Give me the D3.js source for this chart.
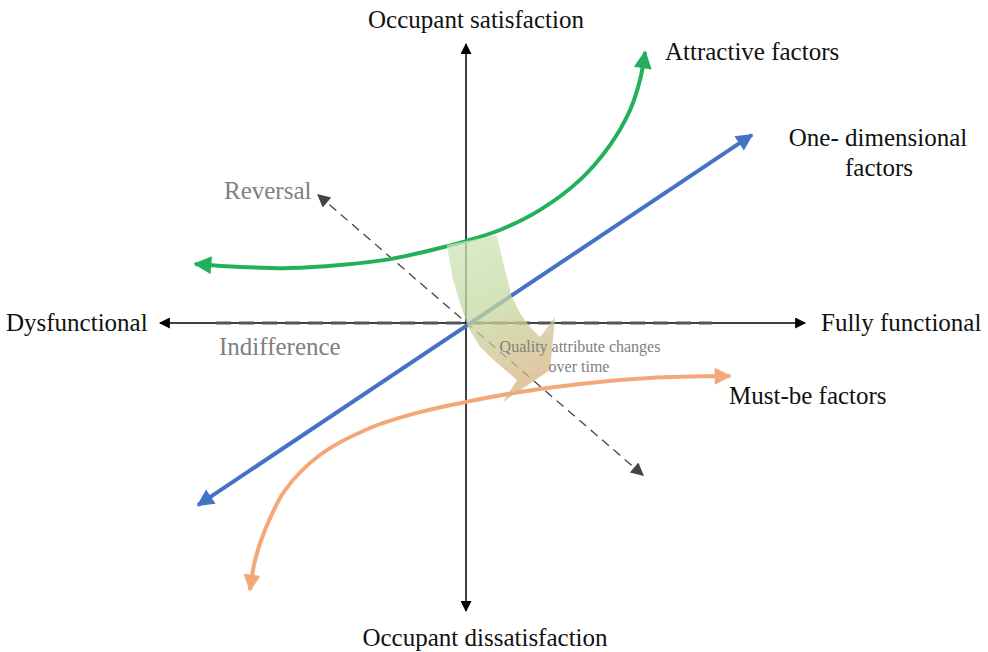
<!DOCTYPE html>
<html>
<head>
<meta charset="utf-8">
<script src="https://cdn.jsdelivr.net/npm/d3@7"></script>
<style>
  body { margin: 0; background: #fff; }
  text { font-family: "Liberation Serif", "Times New Roman", serif; }
</style>
</head>
<body>
<script>
// curve points, in diagram units (origin = centre of the axes)
const attractive = [[-90.3,19.7],[-75.3,18.7],[-58.7,18.3],[-42,19.3],[-25.3,21.3],[-8.7,25],[0,27.3],
                    [11.3,31],[24.7,37.7],[38,47.7],[48,59.3],[54.7,71],[58,81],[59.7,90.3]];
const oneDim = [[-89.3,-60.7],[95.3,62.7]];
const mustBe = [[-72,-89],[-70.3,-79],[-67,-69],[-60.3,-55.7],[-48.7,-44],[-32,-35],[-15.3,-29.7],
                [0,-26.3],[18,-23],[38,-20.3],[61.3,-18.3],[88,-17.7]];
const reversal = [[-49.3,42.7],[59,-50.7]];
const indifference = [[-83.3,0],[82,0]];
const xAxisEnds = [[-102,0],[113,0]];
const yAxisEnds = [[0,-96],[0,93]];
const changeArrow = [[-6.4,26],[-4.3,14.3],[-2,6.7],[0.7,-1.3],[4.7,-8],[10.3,-13.3],[17,-19],
                     [12.3,-26.3],[28,-15.7],[29.7,2],[24.7,-4.7],[21.3,-1.3],[18,3.3],[15.2,8.8],[13,17.7],[10.2,29.3]];

const axisLabels = ["Occupant satisfaction","Occupant dissatisfaction","Dysfunctional","Fully functional"];
const factorLabels = ["Attractive factors","One- dimensional","factors","Must-be factors"];
const grayLabels = ["Reversal","Indifference"];
const changeLabel = ["Quality attribute changes","over time"];

const W = 988, H = 652;
const x = d3.scaleLinear().domain([-100,100]).range([166,766]);
const y = d3.scaleLinear().domain([-100,100]).range([623,23]);

const svg = d3.select("body").append("svg")
    .attr("width", W).attr("height", H);

const defs = svg.append("defs");
function marker(id, color, w, h) {
  defs.append("marker")
      .attr("id", id)
      .attr("viewBox", "0 0 10 10")
      .attr("refX", 9).attr("refY", 5)
      .attr("markerUnits", "userSpaceOnUse")
      .attr("markerWidth", w).attr("markerHeight", h)
      .attr("orient", "auto-start-reverse")
    .append("path")
      .attr("d", "M0,0 L10,5 L0,10 z")
      .attr("fill", color);
}
marker("arBlack", "#000", 13, 11);
marker("arGreen", "#22b15a", 20, 18);
marker("arBlue", "#4472c4", 20, 17);
marker("arOrange", "#f4a87a", 20, 17);
marker("arGray", "#444", 15, 13);

const grad = defs.append("linearGradient")
    .attr("id", "chg").attr("x1", 0).attr("y1", 0).attr("x2", 0.3).attr("y2", 1);
grad.append("stop").attr("offset", "0%").attr("stop-color", "#d0e6bd");
grad.append("stop").attr("offset", "50%").attr("stop-color", "#c5d9a0");
grad.append("stop").attr("offset", "100%").attr("stop-color", "#d6b482");

const line = d3.line().x(d => x(d[0])).y(d => y(d[1]));
const smooth = d3.line().x(d => x(d[0])).y(d => y(d[1])).curve(d3.curveCatmullRom);

// axes
[xAxisEnds, yAxisEnds].forEach(p => {
  svg.append("path").attr("d", line(p))
     .attr("stroke", "#000").attr("stroke-width", 1.5).attr("fill", "none")
     .attr("marker-start", "url(#arBlack)").attr("marker-end", "url(#arBlack)");
});

// indifference dashed
svg.append("path").attr("d", line(indifference))
   .attr("stroke", "#555").attr("stroke-width", 3).attr("fill", "none")
   .attr("stroke-dasharray", "15,8");

// reversal dashed
svg.append("path").attr("d", line(reversal))
   .attr("stroke", "#444").attr("stroke-width", 1.3).attr("fill", "none")
   .attr("stroke-dasharray", "9,6")
   .attr("marker-start", "url(#arGray)").attr("marker-end", "url(#arGray)");

// factor curves
svg.append("path").attr("d", smooth(attractive))
   .attr("stroke", "#22b15a").attr("stroke-width", 4).attr("fill", "none")
   .attr("marker-start", "url(#arGreen)").attr("marker-end", "url(#arGreen)");
svg.append("path").attr("d", line(oneDim))
   .attr("stroke", "#4472c4").attr("stroke-width", 4).attr("fill", "none")
   .attr("marker-start", "url(#arBlue)").attr("marker-end", "url(#arBlue)");
svg.append("path").attr("d", smooth(mustBe))
   .attr("stroke", "#f4a87a").attr("stroke-width", 4).attr("fill", "none")
   .attr("marker-start", "url(#arOrange)").attr("marker-end", "url(#arOrange)");

// change over time arrow
svg.append("path").attr("d", line.curve(d3.curveLinearClosed)(changeArrow))
   .attr("fill", "url(#chg)").attr("fill-opacity", 0.75).attr("stroke", "none");

// labels
function label(t, px, py, anchor, size, color) {
  svg.append("text").attr("x", px).attr("y", py)
     .attr("text-anchor", anchor).attr("font-size", size)
     .attr("fill", color).text(t);
}
label(axisLabels[0], 476, 28, "middle", 25, "#111");
label(axisLabels[1], 485, 646, "middle", 25, "#111");
label(axisLabels[2], 6, 331, "start", 25, "#111");
label(axisLabels[3], 821, 331, "start", 25, "#111");
label(factorLabels[0], 665, 60, "start", 25, "#111");
label(factorLabels[1], 878, 146, "middle", 25, "#111");
label(factorLabels[2], 879, 176, "middle", 25, "#111");
label(factorLabels[3], 729, 404, "start", 25, "#111");
label(grayLabels[0], 224, 199, "start", 25, "#808080");
label(grayLabels[1], 219, 355, "start", 25, "#808080");
label(changeLabel[0], 580, 352, "middle", 16, "#808080");
label(changeLabel[1], 579, 372, "middle", 16, "#808080");
</script>
</body>
</html>
